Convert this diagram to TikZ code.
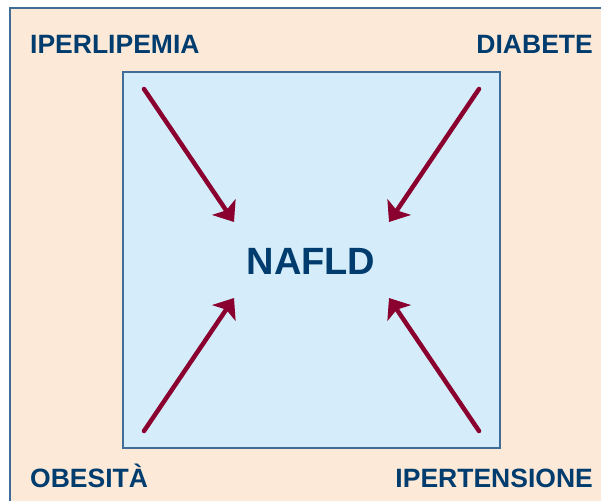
\documentclass[tikz,border=0pt]{standalone}
\usepackage{fontspec}
\setmainfont{Liberation Sans}
\usetikzlibrary{arrows.meta}
\definecolor{peach}{HTML}{FDE9D8}
\definecolor{skyfill}{HTML}{D5EDFA}
\definecolor{frameblue}{HTML}{3F6D98}
\definecolor{textblue}{HTML}{003D6E}
\definecolor{arrowred}{HTML}{8A002E}
\tikzset{
  factor/.style={font=\fontsize{26.5}{30}\selectfont\bfseries, text=textblue, inner sep=0pt},
  centre/.style={font=\fontsize{38}{42}\selectfont\bfseries, text=textblue, inner sep=0pt},
  push/.style={draw=arrowred, line width=4.5pt, line cap=round,
    -{Stealth[length=18pt, width=28pt, inset=4pt]}}
}
\begin{document}
\begin{tikzpicture}[x=1pt, y=-1pt]
  \useasboundingbox (0,0) rectangle (601,500);
  % background panels
  \draw[fill=peach, draw=frameblue, line width=1.5pt] (10,8) rectangle (640,540);
  \draw[fill=skyfill, draw=frameblue, line width=1.2pt] (123,72) rectangle (500,448);
  % labels
  \node[factor, anchor=base west] (iperlip) at (30,54) {IPERLIPEMIA};
  \node[factor, anchor=base east] (diabete) at (593,54) {DIABETE};
  \node[factor, anchor=base west] (obesita) at (30,487) {OBESITÀ};
  \node[factor, anchor=base east] (ipert) at (593,487) {IPERTENSIONE};
  \node[centre, anchor=base] (nafld) at (311,274) {NAFLD};
  % arrow ends
  \coordinate (tl) at (144,89);
  \coordinate (tr) at (479,89);
  \coordinate (bl) at (144,431);
  \coordinate (br) at (479,431);
  \coordinate (tlh) at (234,222);
  \coordinate (trh) at (389,222);
  \coordinate (blh) at (234,298);
  \coordinate (brh) at (389,298);
  \begin{scope}[push]
    \draw (tl) to (tlh);
    \draw (tr) to (trh);
    \draw (bl) to (blh);
    \draw (br) to (brh);
  \end{scope}
\end{tikzpicture}
\end{document}
